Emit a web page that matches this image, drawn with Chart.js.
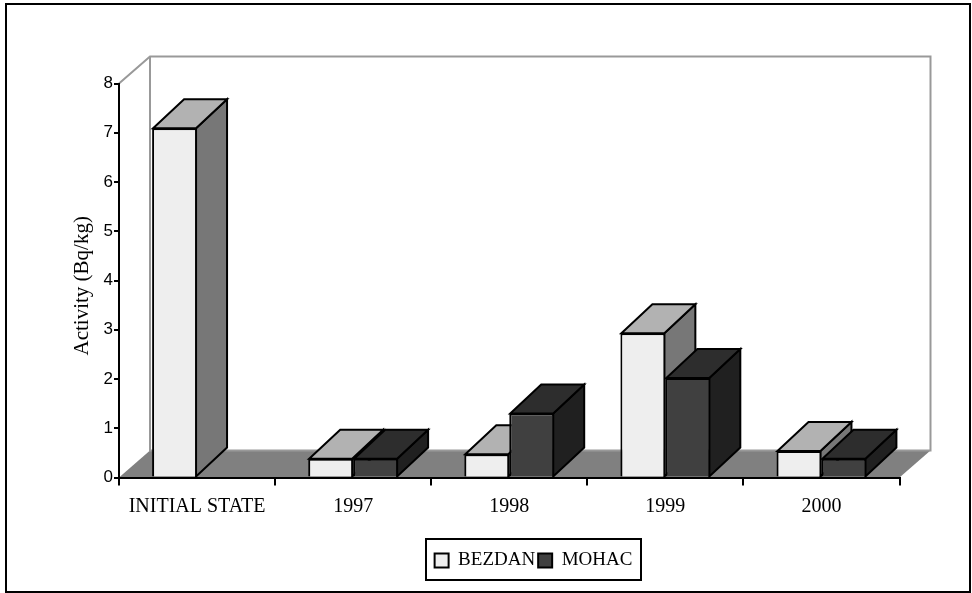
<!DOCTYPE html>
<html>
<head>
<meta charset="utf-8">
<title>Activity</title>
<script src="https://cdn.jsdelivr.net/npm/chart.js@4/dist/chart.umd.min.js"></script>
<style>
  html, body { margin: 0; background: #fff; }
  #wrap { position: relative; width: 972px; height: 593px; }
</style>
</head>
<body>
<div id="wrap"><canvas id="chart"></canvas></div>
<script>
const categories = ["INITIAL STATE", "1997", "1998", "1999", "2000"];
const bezdan = [7.09, 0.38, 0.47, 2.93, 0.54];
const mohac = [null, 0.38, 1.3, 2.02, 0.38];
const yTicks = [0, 1, 2, 3, 4, 5, 6, 7, 8];

const SERIF = "'Liberation Serif', 'Times New Roman', serif";
const SANS = "'Liberation Sans Narrow', 'Liberation Sans', Arial, sans-serif";

// bar depth and wall depth differ a little in the original
const BAR_DX = 31, BAR_DY = 29;
const WALL_DX = 31, WALL_DY = 27;

function poly(ctx, pts, fill, stroke, lw) {
  ctx.beginPath();
  pts.forEach((p, i) => (i ? ctx.lineTo(p[0], p[1]) : ctx.moveTo(p[0], p[1])));
  ctx.closePath();
  ctx.fillStyle = fill;
  ctx.fill();
  if (stroke) {
    ctx.lineWidth = lw;
    ctx.strokeStyle = stroke;
    ctx.lineJoin = "miter";
    ctx.stroke();
  }
}

// back wall, floor and page frame, all hung off the chart area
const room = {
  id: "room",
  beforeDraw(chart) {
    const { ctx, chartArea: a } = chart;
    ctx.save();
    ctx.lineWidth = 2;
    ctx.strokeStyle = "#000";
    ctx.strokeRect(6, 4, 964, 588);

    poly(ctx, [
      [a.left, a.bottom], [a.right, a.bottom],
      [a.right + WALL_DX, a.bottom - WALL_DY], [a.left + WALL_DX, a.bottom - WALL_DY],
    ], "#808080");

    ctx.strokeStyle = "#999";
    ctx.lineWidth = 2;
    ctx.beginPath();
    ctx.moveTo(a.left, a.top);
    ctx.lineTo(a.left + WALL_DX, a.top - WALL_DY);
    ctx.lineTo(a.right + WALL_DX, a.top - WALL_DY);
    ctx.lineTo(a.right + WALL_DX, a.bottom - WALL_DY);
    ctx.lineTo(a.left + WALL_DX, a.bottom - WALL_DY);
    ctx.lineTo(a.left + WALL_DX, a.top - WALL_DY);
    ctx.stroke();
    ctx.restore();
  },
};

// Chart.js paints the last dataset first, but BEZDAN has to go under MOHAC,
// so the datasets are painted here, first to last, with their top and side faces
const bars3d = {
  id: "bars3d",
  beforeDatasetsDraw(chart) {
    const { ctx } = chart;
    chart.data.datasets.forEach((ds, i) => {
      const meta = chart.getDatasetMeta(i);
      ctx.save();
      meta.data.forEach((el, idx) => {
        if (ds.data[idx] === null) return;
        const { x, y, base, width } = el.getProps(["x", "y", "base", "width"], true);
        const l = x - width / 2 + 1, r = x + width / 2 - 1;
        poly(ctx, [[r, y], [r + BAR_DX, y - BAR_DY], [r + BAR_DX, base - BAR_DY], [r, base]], ds.sideColor, "#000", 2);
        poly(ctx, [[l, y], [l + BAR_DX, y - BAR_DY], [r + BAR_DX, y - BAR_DY], [r, y]], ds.topColor, "#000", 2);
      });
      ctx.restore();
      meta.controller.draw();
    });
  },
  beforeDatasetDraw() {
    return false;
  },
};

// legend sits right of the page centre in the original, with a box round it
const legendFrame = {
  id: "legendFrame",
  afterLayout(chart) {
    chart.legend.left = 2 * 533.5 - chart.legend.right;
  },
  afterDraw(chart) {
    const { ctx } = chart;
    ctx.save();
    ctx.lineWidth = 2;
    ctx.strokeStyle = "#000";
    ctx.strokeRect(426, 539, 215, 41);
    ctx.restore();
  },
};

new Chart(document.getElementById("chart"), {
  type: "bar",
  plugins: [room, bars3d, legendFrame],
  data: {
    labels: categories,
    datasets: [
      {
        label: "BEZDAN", data: bezdan,
        backgroundColor: "#eeeeee", borderColor: "#000", borderWidth: 2,
        topColor: "#b2b2b2", sideColor: "#777777",
      },
      {
        label: "MOHAC", data: mohac,
        backgroundColor: "#404040", borderColor: "#000", borderWidth: 2,
        topColor: "#2d2d2d", sideColor: "#202020",
      },
    ],
  },
  options: {
    responsive: true,
    maintainAspectRatio: false,
    animation: false,
    events: [],
    layout: { padding: { left: 0, right: 72.5, top: 83.5, bottom: 13 } },
    categoryPercentage: 0.576,
    barPercentage: 1,
    plugins: {
      tooltip: { enabled: false },
      legend: {
        position: "bottom",
        labels: {
          color: "#000",
          font: { family: SERIF, size: 19 },
          boxWidth: 14,
          boxHeight: 14,
          padding: 3,
        },
      },
    },
    scales: {
      x: {
        afterFit(scale) { scale.height = 70.5; },
        border: { color: "#000", width: 2 },
        grid: { drawOnChartArea: false, color: "#000", lineWidth: 2, tickLength: 8, offset: true },
        ticks: { color: "#000", font: { family: SERIF, size: 20 }, padding: 9, maxRotation: 0 },
      },
      y: {
        min: 0,
        max: 8,
        afterFit(scale) { scale.width = 119; },
        afterBuildTicks(scale) { scale.ticks = yTicks.map((value) => ({ value })); },
        border: { color: "#000", width: 2 },
        grid: { drawOnChartArea: false, color: "#000", lineWidth: 2, tickLength: 5 },
        ticks: { color: "#000", font: { family: SANS, size: 17 }, padding: 1 },
        title: {
          display: true,
          text: "Activity (Bq/kg)  ",
          color: "#000",
          font: { family: SERIF, size: 21 },
          padding: { top: 70, bottom: 0 },
        },
      },
    },
  },
});
</script>
</body>
</html>
